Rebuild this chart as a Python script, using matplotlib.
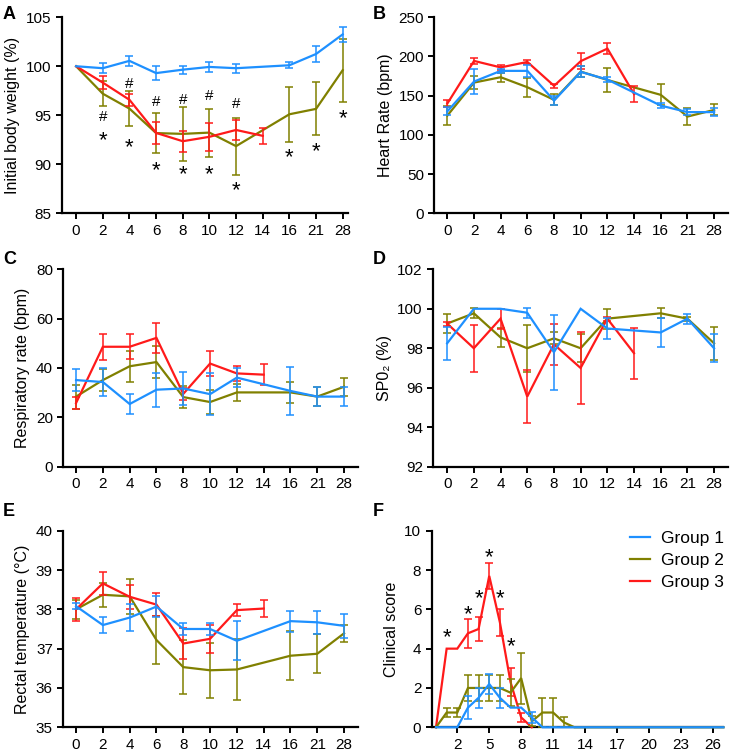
import numpy as np
import matplotlib
matplotlib.use("Agg")
import matplotlib.pyplot as plt

plt.rcParams['font.family'] = ['Liberation Sans', 'DejaVu Sans']

nan = np.nan
days = ['0', '2', '4', '6', '8', '10', '12', '14', '16', '21', '28']
groups = ['Group 1', 'Group 2', 'Group 3']
colors = ['#1E90FF', '#808000', '#FF1A1A']

# ---- A: initial body weight (%)
bw_g1 = [100, 99.8, 100.55, 99.3, 99.65, 99.93, 99.8, nan, 100.1, 101.25, 103.25]
bw_g1_err = [0, 0.5, 0.5, 0.7, 0.4, 0.5, 0.45, nan, 0.3, 0.8, 0.75]
bw_g2 = [100, 97.2, 95.68, 93.18, 93.1, 93.23, 91.85, nan, 95.1, 95.65, 99.6]
bw_g2_err = [0, 1.25, 1.8, 2.0, 2.78, 2.45, 2.9, nan, 2.8, 2.7, 3.2]
bw_g3 = [100, 98.33, 96.58, 93.2, 92.35, 92.8, 93.5, 92.9, nan, nan, nan]
bw_g3_err = [0, 0.65, 0.6, 1.15, 1.05, 1.4, 1.05, 0.8, nan, nan, nan]
bw_hash_y = [95.0, 98.3, 96.5, 96.7, 97.1, 96.3]
bw_hash_x = [1, 2, 3, 4, 5, 6]
bw_star_y = [93.1, 92.4, 90.1, 89.6, 89.7, 88.0, 91.4, 92.0, 95.4]
bw_star_x = [1, 2, 3, 4, 5, 6, 8, 9, 10]

# ---- B: heart rate (bpm)
hr_g1 = [130, 168, 181.6, 181.6, 143.7, 180.3, 170.5, nan, 137.3, 129, 129]
hr_g1_err = [5, 16, 2.5, 8, 6, 7, 3, nan, 3.5, 4, 5]
hr_g2 = [124.6, 166.7, 173.5, 160.7, 144.6, 180.7, 170, nan, 151, 123.3, 131.8]
hr_g2_err = [12, 8, 6, 12, 7, 7.5, 15, nan, 13.5, 11, 7]
hr_g3 = [140, 194.3, 186, 193, 162.5, 194, 210, 152, nan, nan, nan]
hr_g3_err = [5, 4, 3, 2, 2.5, 10, 7.5, 10, nan, nan, nan]

# ---- C: respiratory rate (bpm)
rr_g1 = [35.1, 34.3, 25.4, 31.2, 31.7, 29.4, 36.1, nan, 30.7, 28.4, 28.4]
rr_g1_err = [4.4, 5.5, 4.0, 6.9, 6.6, 8.6, 4.0, nan, 9.9, 3.7, 4.0]
rr_g2 = [28.4, 35.1, 40.7, 42.4, 28.2, 26.2, 30.1, nan, 30.1, 28.4, 32.4]
rr_g2_err = [4.9, 4.5, 6.2, 6.4, 4.3, 4.8, 3.4, nan, 4.2, 3.9, 3.6]
rr_g3 = [25.8, 48.6, 48.6, 52.2, 29.5, 41.8, 37.8, 37.3, nan, nan, nan]
rr_g3_err = [2.4, 5.3, 5.0, 6.2, 2.3, 5.0, 3.2, 4.2, nan, nan, nan]

# ---- D: SPO2 (%)
sp_g1 = [98.25, 100, 100, 99.8, 97.8, 100, 99.0, nan, 98.8, 99.5, 98.0]
sp_g1_err = [0.85, 0, 0, 0.25, 1.9, 0, 0.55, nan, 0.75, 0.25, 0.7]
sp_g2 = [99.25, 99.77, 98.55, 98.0, 98.5, 98.0, 99.5, nan, 99.77, 99.5, 98.25]
sp_g2_err = [0.48, 0.25, 0.5, 1.2, 0.3, 0.7, 0.5, nan, 0.25, 0.1, 0.85]
sp_g3 = [99.25, 98.0, 99.5, 95.55, 98.2, 97.0, 99.5, 97.75, nan, nan, nan]
sp_g3_err = [0.1, 1.2, 0.5, 1.35, 1.05, 1.8, 0.1, 1.3, nan, nan, nan]

# ---- E: rectal temperature (°C)
rt_g1 = [38.08, 37.6, 37.79, 38.07, 37.5, 37.5, 37.2, nan, 37.7, 37.67, 37.58]
rt_g1_err = [0.07, 0.21, 0.34, 0.27, 0.16, 0.16, 0.5, nan, 0.27, 0.3, 0.3]
rt_g2 = [38.0, 38.37, 38.33, 37.22, 36.53, 36.45, 36.47, nan, 36.82, 36.87, 37.39]
rt_g2_err = [0.25, 0.3, 0.45, 0.6, 0.68, 0.7, 0.77, nan, 0.62, 0.5, 0.22]
rt_g3 = [38.0, 38.66, 38.32, 38.12, 37.13, 37.25, 37.98, 38.02, nan, nan, nan]
rt_g3_err = [0.3, 0.3, 0.3, 0.3, 0.4, 0.36, 0.15, 0.22, nan, nan, nan]

# ---- F: clinical score
cs_days = list(range(0, 28))
cs_g1 = [0, 0, 0, 1.0, 1.5, 2.2, 1.5, 1.0, 1.0, 0.5] + [0] * 18
cs_g1_err = [0, 0, 0, 0.57, 0.5, 0.5, 0.5, 0, 0, 0.27] + [0] * 18
cs_g2 = [0, 0.75, 0.75, 2.0, 2.0, 2.0, 2.0, 1.76, 2.5, 0.3, 0.75, 0.75, 0.25, 0] + [0] * 14
cs_g2_err = [0, 0.25, 0.25, 0.68, 0.68, 0.68, 0.68, 0.7, 1.3, 0.25, 0.75, 0.75, 0.25, 0] + [0] * 14
cs_g3 = [0, 4.0, 4.0, 4.78, 5.0, 7.7, 5.34, 2.3, 0.5, 0]
cs_g3_err = [0, 0, 0, 0.75, 0.6, 0.65, 0.68, 0.7, 0.25, 0]
cs_star_x = [1, 3, 4, 5, 6, 7]
cs_star_y = [4.9, 6.1, 6.9, 9.0, 6.9, 4.45]

fig = plt.figure(figsize=(7.33, 7.56), dpi=100)

rects = {
    'A': [0.0842, 0.7179, 0.3906, 0.2593],
    'B': [0.5925, 0.7179, 0.4007, 0.2593],
    'C': [0.0864, 0.3827, 0.4020, 0.2611],
    'D': [0.5911, 0.3827, 0.4020, 0.2611],
    'E': [0.0864, 0.0380, 0.4020, 0.2600],
    'F': [0.5890, 0.0380, 0.3980, 0.2600],
}
letter_pos = {'A': (3, 6), 'B': (373, 6), 'C': (3, 251), 'D': (373, 251),
              'E': (3, 503), 'F': (373, 503)}


def style(ax):
    for s in ['top', 'right']:
        ax.spines[s].set_visible(False)
    for s in ['left', 'bottom']:
        ax.spines[s].set_linewidth(1.6)
    ax.tick_params(direction='out', length=4.5, width=1.4, labelsize=11,
                   colors='black', pad=3)


def draw_series(ax, x, y, e, color, z):
    x = np.asarray(x, float)
    y = np.asarray(y, float)
    e = np.asarray(e, float)
    m = ~np.isnan(y)
    ax.plot(x[m], y[m], color=color, lw=1.6, zorder=z, clip_on=False,
            solid_joinstyle='miter')
    em = m & (e > 0)
    ax.errorbar(x[em], y[em], yerr=e[em], fmt='none', ecolor=color,
                elinewidth=1.1, capsize=2.6, capthick=1.1, zorder=z - 0.5,
                clip_on=False)


def category_panel(key, series, ylim, yticks, ylabel, xlim):
    ax = fig.add_axes(rects[key])
    xpos = np.arange(len(days))
    order = [1, 2, 0]
    for i in order:
        y, e = series[i]
        draw_series(ax, xpos, y, e, colors[i], 3 + order.index(i))
    ax.set_xticks(xpos)
    ax.set_xticklabels(days)
    ax.set_xlim(*xlim)
    ax.set_ylim(*ylim)
    ax.set_yticks(yticks)
    ax.set_ylabel(ylabel, fontsize=11.5, labelpad=4)
    style(ax)
    return ax


def letter(key):
    x, y = letter_pos[key]
    fig.text(x / 733, 1 - y / 756, key, fontsize=13, fontweight='bold',
             ha='left', va='top')


axA = category_panel('A', [(bw_g1, bw_g1_err), (bw_g2, bw_g2_err), (bw_g3, bw_g3_err)],
                     (85, 105), [85, 90, 95, 100, 105], 'Initial body weight (%)',
                     (-0.54, 10.2))
for xv, yv in zip(bw_hash_x, bw_hash_y):
    axA.annotate('#', (xv, yv), xytext=(0, -4.0), textcoords='offset points',
                 ha='center', va='baseline', fontsize=11)
for xv, yv in zip(bw_star_x, bw_star_y):
    axA.annotate('*', (xv, yv), xytext=(0, -9.0), textcoords='offset points',
                 ha='center', va='baseline', fontsize=16)

category_panel('B', [(hr_g1, hr_g1_err), (hr_g2, hr_g2_err), (hr_g3, hr_g3_err)],
               (0, 250), [0, 50, 100, 150, 200, 250], 'Heart Rate (bpm)',
               (-0.49, 10.52))
category_panel('C', [(rr_g1, rr_g1_err), (rr_g2, rr_g2_err), (rr_g3, rr_g3_err)],
               (0, 80), [0, 20, 40, 60, 80], 'Respiratory rate (bpm)',
               (-0.475, 10.52))
category_panel('D', [(sp_g1, sp_g1_err), (sp_g2, sp_g2_err), (sp_g3, sp_g3_err)],
               (92, 102), [92, 94, 96, 98, 100, 102], 'SP0\u2082 (%)',
               (-0.52, 10.52))
category_panel('E', [(rt_g1, rt_g1_err), (rt_g2, rt_g2_err), (rt_g3, rt_g3_err)],
               (35, 40), [35, 36, 37, 38, 39, 40], 'Rectal temperature (\u00b0C)',
               (-0.475, 10.52))

# ---- F
axF = fig.add_axes(rects['F'])
fseries = [(cs_g1, cs_g1_err), (cs_g2, cs_g2_err), (cs_g3, cs_g3_err)]
handles = [None] * 3
for z, i in enumerate([2, 1, 0]):
    y, e = fseries[i]
    x = cs_days[:len(y)]
    draw_series(axF, x, y, e, colors[i], 3 + z)
    handles[i] = plt.Line2D([], [], color=colors[i], lw=1.6)
for xv, yv in zip(cs_star_x, cs_star_y):
    axF.annotate('*', (xv, yv), xytext=(0, -9.0), textcoords='offset points',
                 ha='center', va='baseline', fontsize=16)
axF.set_xlim(-0.4, 27)
axF.set_ylim(0, 10)
axF.set_xticks([2, 5, 8, 11, 14, 17, 20, 23, 26])
axF.set_yticks([0, 2, 4, 6, 8, 10])
axF.set_ylabel('Clinical score', fontsize=11.5, labelpad=4)
style(axF)
axF.legend(handles, groups, loc='upper right', frameon=False, fontsize=12.5,
           handlelength=1.2, handletextpad=0.6, labelspacing=0.4,
           bbox_to_anchor=(1.055, 1.08))

for k in 'ABCDEF':
    letter(k)

fig.savefig('out.png', dpi=100)
